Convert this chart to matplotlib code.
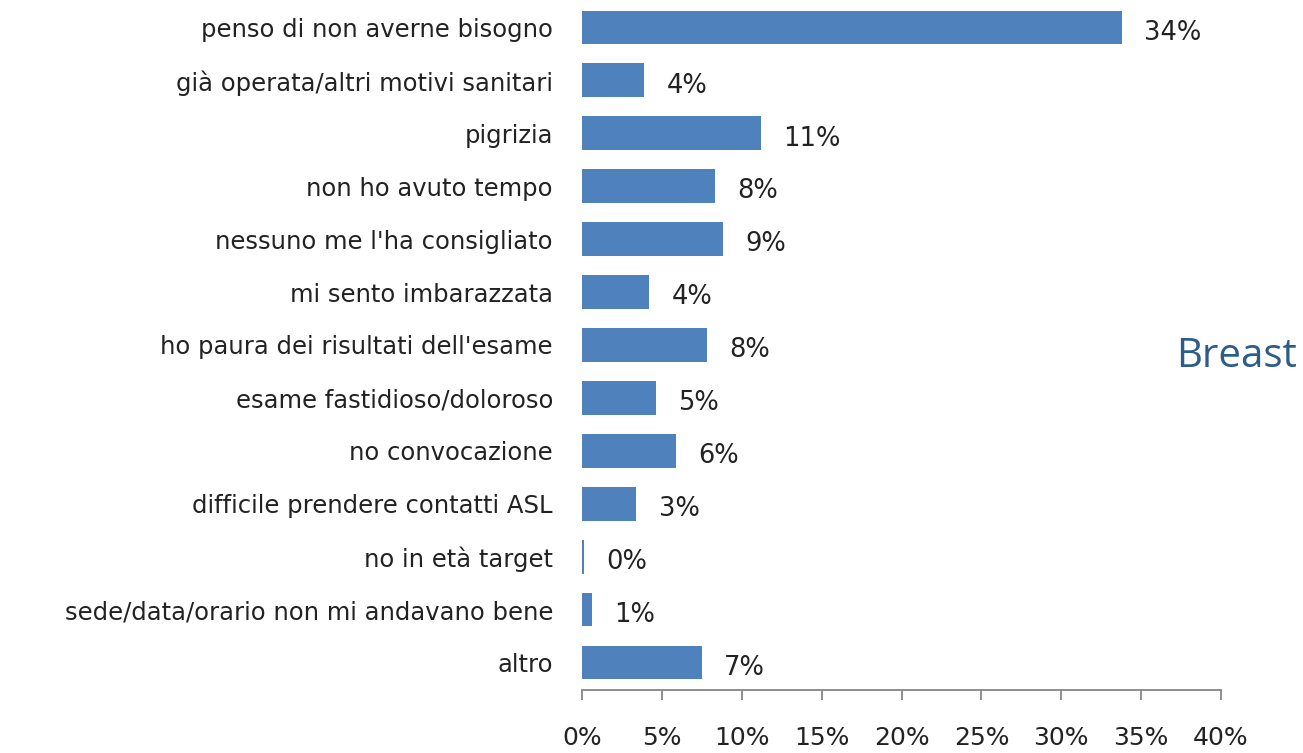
import matplotlib
matplotlib.use("Agg")
import matplotlib.pyplot as plt
from matplotlib.ticker import FuncFormatter

categories = [
    "penso di non averne bisogno",
    "già operata/altri motivi sanitari",
    "pigrizia",
    "non ho avuto tempo",
    "nessuno me l'ha consigliato",
    "mi sento imbarazzata",
    "ho paura dei risultati dell'esame",
    "esame fastidioso/doloroso",
    "no convocazione",
    "difficile prendere contatti ASL",
    "no in età target",
    "sede/data/orario non mi andavano bene",
    "altro",
]
values = [33.8, 3.9, 11.2, 8.3, 8.8, 4.2, 7.8, 4.6, 5.9, 3.4, 0.1, 0.6, 7.5]
value_labels = ["34%", "4%", "11%", "8%", "9%", "4%", "8%", "5%", "6%", "3%", "0%", "1%", "7%"]
x_ticks = [0, 5, 10, 15, 20, 25, 30, 35, 40]

BAR = "#4F81BD"
TXT = "#222222"
AXC = "#868686"

fig = plt.figure(figsize=(13.03, 7.53), dpi=100)
ax = fig.add_axes([0.4467, 0.0837, 0.4904, 0.915])

pos = list(range(len(categories)))
ax.barh(pos, values, height=0.64, color=BAR)
for p, v, lab in zip(pos, values, value_labels):
    ax.text(v + 1.4, p + 0.1, lab, va="center", ha="left", fontsize=18.5, color=TXT)

ax.set_ylim(12.52, -0.5)
ax.set_xlim(0, 40)
ax.set_yticks(pos)
ax.set_yticklabels(categories, fontsize=17.5, color=TXT)
ax.tick_params(axis="y", length=0, pad=21)

ax.set_xticks(x_ticks)
ax.xaxis.set_major_formatter(FuncFormatter(lambda x, _: f"{x:.0f}%"))
ax.tick_params(axis="x", length=7, width=1.3, color=AXC, labelsize=18, labelcolor=TXT, pad=19)

for s in ("top", "right", "left"):
    ax.spines[s].set_visible(False)
ax.spines["bottom"].set_color(AXC)
ax.spines["bottom"].set_linewidth(1.3)

fig.text(0.9025, 0.526, "Breast", fontsize=29, color="#2E5C8A",
         family=["Open Sans", "DejaVu Sans"], ha="left", va="center")

fig.savefig("out.png", dpi=100)
